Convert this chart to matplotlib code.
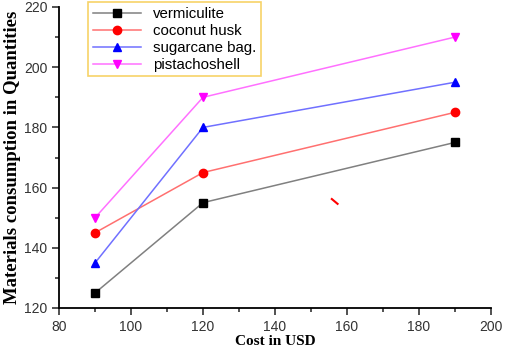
import matplotlib
matplotlib.use("Agg")
import matplotlib.pyplot as plt

# cost points (USD)
cost = [90, 120, 190]

vermiculite = [125, 155, 175]
coconut_husk = [145, 165, 185]
sugarcane_bag = [135, 180, 195]
pistachoshell = [150, 190, 210]

# small red stroke that sits in the original figure
stray_x = [155.8, 157.4]
stray_y = [156.2, 154.6]

plt.rcParams['font.family'] = ['Liberation Sans', 'DejaVu Sans']

fig = plt.figure(figsize=(5.05, 3.5), dpi=100)
ax = fig.add_axes([0.117, 0.12, 0.855, 0.86])

series = [
    (vermiculite, 'vermiculite', 's', 'black', '#808080'),
    (coconut_husk, 'coconut husk', 'o', 'red', '#ff7070'),
    (sugarcane_bag, 'sugarcane bag.', '^', 'blue', '#7070ff'),
    (pistachoshell, 'pistachoshell', 'v', 'magenta', '#ff70ff'),
]
for vals, name, mk, mc, lc in series:
    ax.plot(cost, vals, color=lc, lw=1.1, marker=mk, markersize=6,
            markerfacecolor=mc, markeredgecolor=mc, label=name)

ax.plot(stray_x, stray_y, color='red', lw=1.5)

ax.set_xlim(80, 200)
ax.set_ylim(120, 220)
ax.set_xticks(range(80, 201, 20))
ax.set_xticks(range(90, 200, 20), minor=True)
ax.set_yticks(range(120, 221, 20))
ax.set_yticks(range(130, 220, 20), minor=True)
ax.tick_params(which='both', direction='out', labelsize=10, width=1.2, colors='#333333')
ax.tick_params(which='major', length=5)
ax.tick_params(which='minor', length=3)
for s in ['top', 'right']:
    ax.spines[s].set_visible(False)
for s in ['left', 'bottom']:
    ax.spines[s].set_linewidth(1.3)

ax.set_xlabel('Cost in USD', family='Liberation Serif', fontweight='bold',
              fontsize=11, labelpad=1)
ax.set_ylabel('Materials consumption in Quantities', family='Liberation Serif',
              fontweight='bold', fontsize=13.5, labelpad=2)

leg = ax.legend(loc='upper left', bbox_to_anchor=(0.068, 1.015), fontsize=10.8,
                frameon=True, fancybox=False, handlelength=3.2,
                borderpad=0.3, labelspacing=0.2, borderaxespad=0)
leg.get_frame().set_edgecolor('#f5c842')
leg.get_frame().set_linewidth(1.2)

fig.savefig('out.png', dpi=100)
